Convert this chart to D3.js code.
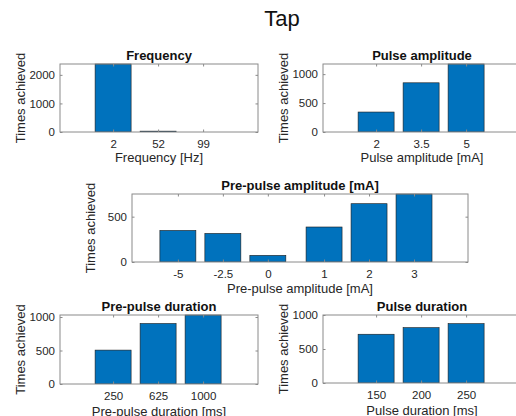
<!DOCTYPE html>
<html>
<head>
<meta charset="utf-8">
<script src="https://cdn.jsdelivr.net/npm/d3@7"></script>
<style>
  html, body { margin: 0; padding: 0; background: #fff; }
  svg { display: block; font-family: "Liberation Sans", Arial, Helvetica, sans-serif; }
</style>
</head>
<body>
<svg id="fig" width="516" height="416"></svg>
<script>
// Counts of how often each stimulation setting was achieved during "Tap"
const freqLabels = ["2", "52", "99"];
const freqCounts = [2380, 30, 0];

const pulseAmpLabels = ["2", "3.5", "5"];
const pulseAmpCounts = [345, 850, 1175];

const prePulseAmpLabels = ["-5", "-2.5", "0", "1", "2", "3"];
const prePulseAmpCounts = [348, 315, 73, 386, 643, 750];

const prePulseDurLabels = ["250", "625", "1000"];
const prePulseDurCounts = [506, 903, 1030];

const pulseDurLabels = ["150", "200", "250"];
const pulseDurCounts = [717, 814, 873];

const yTicksFreq = [0, 1000, 2000];
const yTicks1000 = [0, 500, 1000];
const yTicks500 = [0, 500];

const svg = d3.select("#fig");
const BAR = "#0072BD";
const BOX = "#8a8a8a";
const TXT = "#262626";
const TICK_FS = 11.5;
const LABEL_FS = 13;

svg.append("text")
  .attr("x", 282).attr("y", 18)
  .attr("text-anchor", "middle").attr("dominant-baseline", "central")
  .attr("font-size", 22).attr("fill", "#111")
  .text("Tap");

// One bar panel, MATLAB-style: boxed axes, inward ticks, 0.8-wide bars
function panel(opt) {
  const { x0, x1, y0, y1, xDomain, yMax, labels, counts, slots, yTicks, title, xLabel } = opt;
  const g = svg.append("g");
  const x = d3.scaleLinear().domain(xDomain).range([x0, x1]);
  const y = d3.scaleLinear().domain([0, yMax]).range([y1, y0]);
  const bw = (x(1) - x(0)) * 0.8;

  const clipId = "clip" + Math.round(x0) + "_" + Math.round(y0);
  g.append("clipPath").attr("id", clipId)
    .append("rect").attr("x", x0).attr("y", y0 - 1).attr("width", x1 - x0).attr("height", y1 - y0 + 1);

  g.append("g").attr("clip-path", `url(#${clipId})`)
    .selectAll("rect.bar").data(counts).join("rect")
    .attr("class", "bar")
    .attr("x", (d, i) => x(slots[i]) - bw / 2)
    .attr("width", bw)
    .attr("y", d => y(d))
    .attr("height", d => y(0) - y(d))
    .attr("fill", BAR)
    .attr("stroke", "#1a1a1a").attr("stroke-width", 0.6);

  // axes box
  g.append("rect")
    .attr("x", x0).attr("y", y0).attr("width", x1 - x0).attr("height", y1 - y0)
    .attr("fill", "none").attr("stroke", BOX).attr("stroke-width", 1);

  // bottom axis: inward ticks, labels below
  const xAxis = d3.axisBottom(x).tickValues(slots).tickFormat((d, i) => labels[i])
    .tickSizeInner(-2.5).tickSizeOuter(0).tickPadding(8);
  const xa = g.append("g").attr("transform", `translate(0,${y1})`).call(xAxis);
  xa.select(".domain").remove();
  xa.selectAll(".tick line").attr("stroke", BOX);
  xa.selectAll(".tick text").attr("font-size", TICK_FS).attr("fill", TXT)
    .attr("font-family", "Liberation Sans, Arial, sans-serif");

  // top ticks
  const xt = g.append("g").attr("transform", `translate(0,${y0})`)
    .call(d3.axisTop(x).tickValues(slots).tickFormat("").tickSizeInner(-2.5).tickSizeOuter(0));
  xt.select(".domain").remove();
  xt.selectAll(".tick line").attr("stroke", BOX);

  // left axis
  const yAxis = d3.axisLeft(y).tickValues(yTicks).tickFormat(d3.format("d"))
    .tickSizeInner(-2.5).tickSizeOuter(0).tickPadding(5);
  const ya = g.append("g").attr("transform", `translate(${x0},0)`).call(yAxis);
  ya.select(".domain").remove();
  ya.selectAll(".tick line").attr("stroke", BOX);
  ya.selectAll(".tick text").attr("font-size", TICK_FS).attr("fill", TXT)
    .attr("font-family", "Liberation Sans, Arial, sans-serif");

  // right ticks
  const yr = g.append("g").attr("transform", `translate(${x1},0)`)
    .call(d3.axisRight(y).tickValues(yTicks).tickFormat("").tickSizeInner(-2.5).tickSizeOuter(0));
  yr.select(".domain").remove();
  yr.selectAll(".tick line").attr("stroke", BOX);

  g.append("text")
    .attr("x", (x0 + x1) / 2).attr("y", y0 - 9)
    .attr("text-anchor", "middle").attr("dominant-baseline", "central")
    .attr("font-size", LABEL_FS).attr("font-weight", "bold").attr("fill", "#111")
    .text(title);

  g.append("text")
    .attr("x", (x0 + x1) / 2).attr("y", y1 + opt.xLabelGap)
    .attr("text-anchor", "middle").attr("dominant-baseline", "central")
    .attr("font-size", LABEL_FS).attr("fill", TXT)
    .text(xLabel);

  g.append("text")
    .attr("transform", `translate(${x0 - opt.yLabelGap},${(y0 + y1) / 2}) rotate(-90)`)
    .attr("text-anchor", "middle").attr("dominant-baseline", "central")
    .attr("font-size", LABEL_FS).attr("fill", TXT)
    .text("Times achieved");
}

const seq = arr => arr.map((d, i) => i + 1);
// Negative/zero pre-pulse amplitudes are set apart from the positive ones
const prePulseSlots = prePulseAmpLabels.map((d, i) => i + 1 + (+d > 0 ? 0.25 : 0));

panel({ x0: 60, x1: 258, y0: 64, y1: 132, xDomain: [-0.18, 4.22], yMax: 2380,
  labels: freqLabels, counts: freqCounts, slots: seq(freqLabels), yTicks: yTicksFreq,
  title: "Frequency", xLabel: "Frequency [Hz]", xLabelGap: 25, yLabelGap: 40 });

panel({ x0: 323, x1: 521, y0: 64, y1: 132, xDomain: [-0.18, 4.22], yMax: 1175,
  labels: pulseAmpLabels, counts: pulseAmpCounts, slots: seq(pulseAmpLabels), yTicks: yTicks1000,
  title: "Pulse amplitude", xLabel: "Pulse amplitude [mA]", xLabelGap: 25, yLabelGap: 40 });

panel({ x0: 132, x1: 468, y0: 194, y1: 262, xDomain: [-0.02, 7.45], yMax: 750,
  labels: prePulseAmpLabels, counts: prePulseAmpCounts, slots: prePulseSlots, yTicks: yTicks500,
  title: "Pre-pulse amplitude [mA]", xLabel: "Pre-pulse amplitude [mA]", xLabelGap: 26, yLabelGap: 42 });

panel({ x0: 60, x1: 258, y0: 315, y1: 384, xDomain: [-0.18, 4.22], yMax: 1030,
  labels: prePulseDurLabels, counts: prePulseDurCounts, slots: seq(prePulseDurLabels), yTicks: yTicks1000,
  title: "Pre-pulse duration", xLabel: "Pre-pulse duration [ms]", xLabelGap: 27, yLabelGap: 40 });

panel({ x0: 323, x1: 521, y0: 315, y1: 383, xDomain: [-0.18, 4.22], yMax: 1000,
  labels: pulseDurLabels, counts: pulseDurCounts, slots: seq(pulseDurLabels), yTicks: yTicks1000,
  title: "Pulse duration", xLabel: "Pulse duration [ms]", xLabelGap: 27, yLabelGap: 40 });
</script>
</body>
</html>
